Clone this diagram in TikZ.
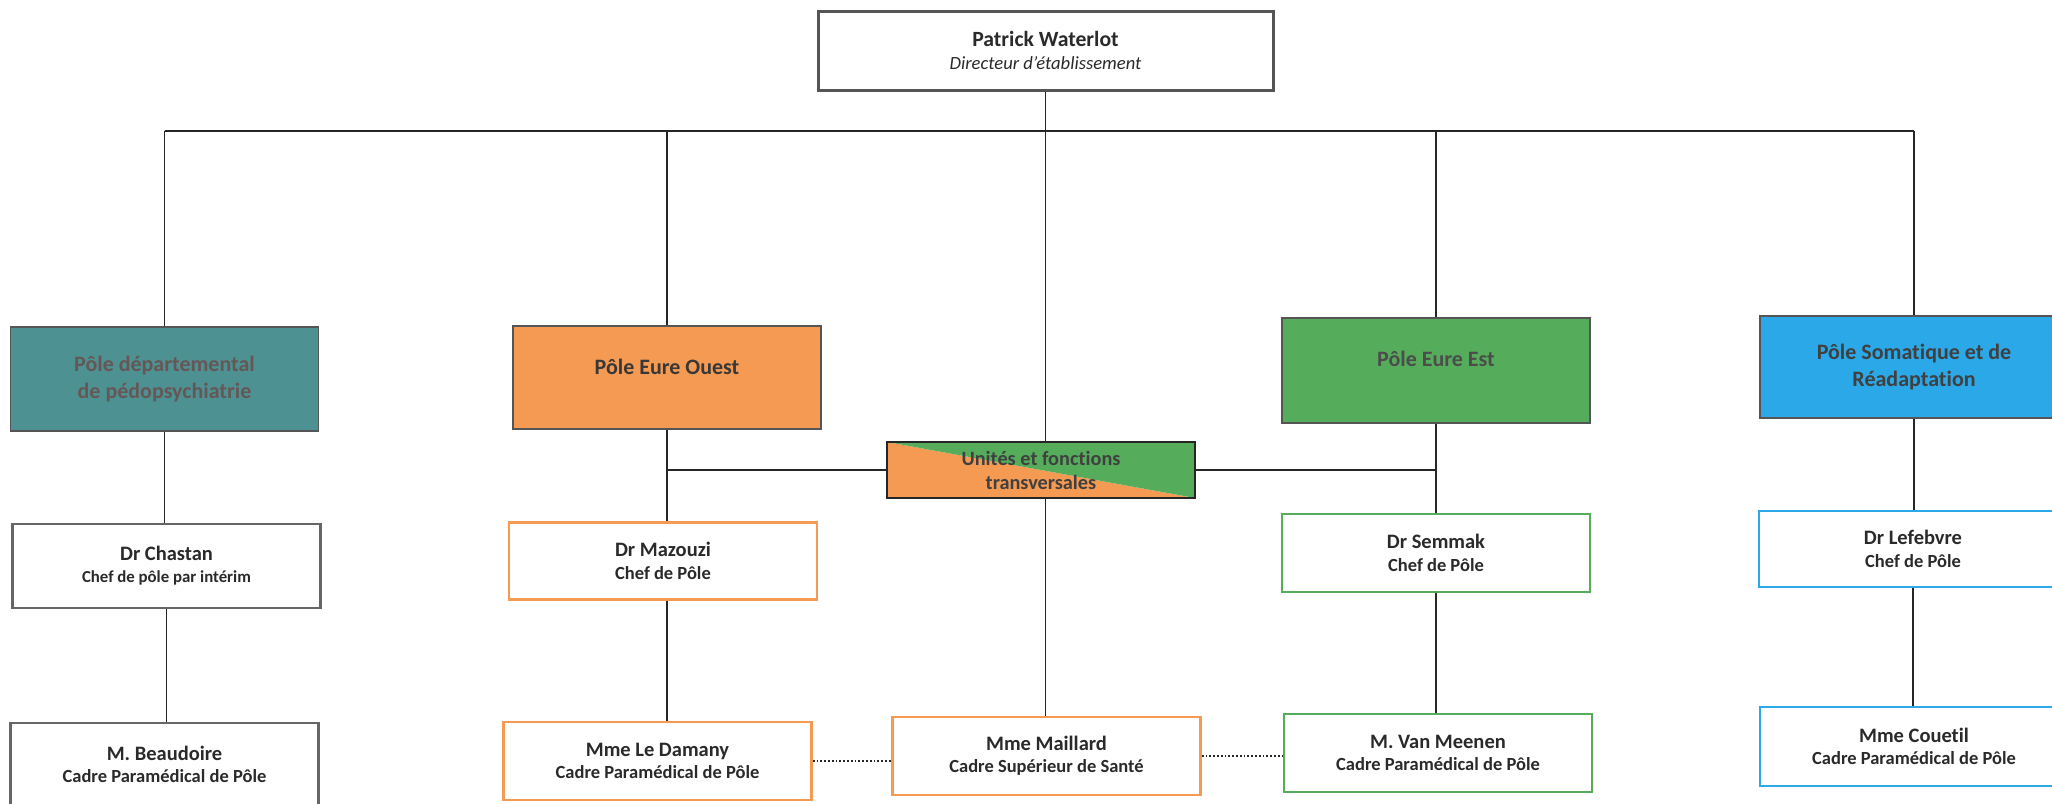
\documentclass[tikz,border=0pt]{standalone}
\usepackage{fontspec}
\setmainfont{Carlito}[Ligatures=NoCommon]
\definecolor{tealP}{HTML}{4E9192}
\definecolor{tealT}{HTML}{665757}
\definecolor{orangeP}{HTML}{F59A52}
\definecolor{greenP}{HTML}{55AD5B}
\definecolor{blueP}{HTML}{2BA8E8}
\definecolor{txt}{HTML}{2A2A2A}
\definecolor{boxgray}{HTML}{555555}
\tikzset{
  every node/.style={align=center, inner sep=0pt, text=txt},
  topbox/.style={draw=boxgray, line width=3pt, fill=white, minimum width=455pt, minimum height=79pt,
    font=\fontsize{18.6}{23}\selectfont\itshape},
  polebox/.style={draw=boxgray, line width=1.6pt, minimum width=308pt, font=\fontsize{22}{27}\selectfont\bfseries},
  poletext/.style={font=\fontsize{22}{27}\selectfont\bfseries},
  personbox/.style={line width=2.4pt, fill=white, minimum width=308pt, font=\fontsize{18.5}{22.5}\selectfont\bfseries},
  link/.style={draw=black!85, line width=1.6pt},
  dotlink/.style={draw=black!85, line width=1.8pt, dotted},
}
\begin{document}
\begin{tikzpicture}[x=1pt,y=-1pt]
\useasboundingbox[fill=white] (0,0) rectangle (2052,803);
% top
\node[topbox] (top) at (1045.5,50.5) {{\upshape\bfseries\fontsize{21.7}{23}\selectfont Patrick Waterlot}\\Directeur d’établissement};
% poles
\node[polebox, fill=tealP, minimum height=104pt, text=tealT] (pole1) at (164.5,379) {Pôle départemental\\de pédopsychiatrie};
\node[polebox, fill=orangeP, minimum height=103pt] (ouest) at (667,377.5) {};
\node[poletext, text=black!78] (ouestT) at ([yshift=11pt]ouest.center) {Pôle Eure Ouest};
\node[polebox, fill=greenP, minimum height=105pt] (est) at (1436,370.5) {};
\node[poletext, text=black!70] (estT) at ([yshift=11.5pt]est.center) {Pôle Eure Est};
\node[polebox, fill=blueP, minimum height=102pt, text=black!75] (soma) at (1914,367) {Pôle Somatique et de\\Réadaptation};
% transversal
\node[draw=black!85, line width=1.6pt, minimum width=308pt, minimum height=56pt,
  font=\fontsize{20.3}{24}\selectfont\bfseries, text=black!75,
  path picture={
    \fill[orangeP] (path picture bounding box.north west) -- (path picture bounding box.south east) -- (path picture bounding box.south west) -- cycle;
    \fill[greenP] (path picture bounding box.north west) -- (path picture bounding box.north east) -- (path picture bounding box.south east) -- cycle;
  }] (trans) at (1041,470) {Unités et fonctions\\transversales};
% chefs
\node[personbox, draw=boxgray!90, minimum height=84pt, font=\fontsize{16.8}{22}\selectfont\bfseries] (chastan) at (166.5,566) {{\fontsize{20.5}{22}\selectfont Dr Chastan}\\Chef de pôle par intérim};
\node[personbox, draw=orangeP, minimum height=77pt] (mazouzi) at (663,561) {{\fontsize{20.5}{22.5}\selectfont Dr Mazouzi}\\Chef de Pôle};
\node[personbox, draw=greenP, minimum height=78pt] (semmak) at (1436,553) {{\fontsize{20.5}{22.5}\selectfont Dr Semmak}\\Chef de Pôle};
\node[personbox, draw=blueP, minimum height=76pt] (lefebvre) at (1913,549) {{\fontsize{20.5}{22.5}\selectfont Dr Lefebvre}\\Chef de Pôle};
% cadres
\node[personbox, draw=boxgray!90, minimum height=83pt] (beaudoire) at (164.5,764.5) {{\fontsize{20.5}{22.5}\selectfont M. Beaudoire}\\Cadre Paramédical de Pôle};
\node[personbox, draw=orangeP, minimum height=78pt] (ledamany) at (657.5,761) {{\fontsize{20.5}{22.5}\selectfont Mme Le Damany}\\Cadre Paramédical de Pôle};
\node[personbox, draw=orangeP, minimum height=78pt] (maillard) at (1046.5,756) {{\fontsize{20.5}{22.5}\selectfont Mme Maillard}\\Cadre Supérieur de Santé};
\node[personbox, draw=greenP, minimum height=78pt] (vanmeenen) at (1438,753) {{\fontsize{20.5}{22.5}\selectfont M. Van Meenen}\\Cadre Paramédical de Pôle};
\node[personbox, draw=blueP, minimum height=79pt] (couetil) at (1914,746.5) {{\fontsize{20.5}{22.5}\selectfont Mme Couetil}\\Cadre Paramédical de Pôle};
% bus
\coordinate (busy) at (0,131);
\draw[link] (pole1.north |- busy) -- (soma.north |- busy);
\draw[link] (top.south) -- (top.south |- trans.north);
\draw[link] (top.south |- trans.south) -- (top.south |- maillard.north);
\draw[link] (pole1.north) -- (pole1.north |- busy);
\draw[link] (ouest.north) -- (ouest.north |- busy);
\draw[link] (est.north) -- (est.north |- busy);
\draw[link] (soma.north) -- (soma.north |- busy);
% columns
\draw[link] (pole1.south) -- (pole1.south |- chastan.north);
\draw[link] (chastan.south) -- (chastan.south |- beaudoire.north);
\draw[link] (ouest.south) -- (ouest.south |- mazouzi.north);
\draw[link] (mazouzi.south -| ouest.south) -- (ouest.south |- ledamany.north);
\draw[link] (est.south) -- (est.south |- semmak.north);
\draw[link] (semmak.south) -- (semmak.south |- vanmeenen.north);
\draw[link] (soma.south) -- (soma.south |- lefebvre.north);
\draw[link] (lefebvre.south) -- (lefebvre.south |- couetil.north);
% transversal links
\draw[link] (ouest.south |- trans.west) -- (trans.west);
\draw[link] (trans.east) -- (est.south |- trans.east);
% dotted
\draw[dotlink] (ledamany.east) -- (ledamany.east -| maillard.west);
\draw[dotlink] (maillard.east) -- (maillard.east -| vanmeenen.west);
\end{tikzpicture}
\end{document}
